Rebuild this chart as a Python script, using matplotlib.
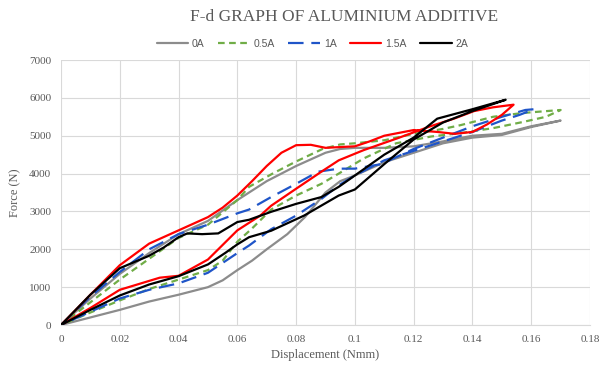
import numpy as np
import matplotlib
matplotlib.use("Agg")
import matplotlib.pyplot as plt
from matplotlib.ticker import MultipleLocator, FuncFormatter

# Each specimen is one closed loop: loading branch out to the end point,
# then the return branch back to the origin.
labels = ["0A", "0.5A", "1A", "1.5A", "2A"]

a0_load_x = [0, 0.01, 0.02, 0.03, 0.04, 0.05, 0.06, 0.07, 0.08, 0.09, 0.095, 0.10, 0.11, 0.12, 0.13, 0.14, 0.15, 0.16, 0.17]
a0_load_y = [0, 700, 1350, 1900, 2400, 2750, 3300, 3800, 4200, 4550, 4650, 4680, 4680, 4720, 4850, 5000, 5050, 5250, 5400]
a0_ret_x = [0, 0.01, 0.02, 0.03, 0.04, 0.05, 0.055, 0.06, 0.065, 0.07, 0.077, 0.083, 0.09, 0.095, 0.10, 0.11, 0.12, 0.13, 0.14, 0.15, 0.16, 0.17]
a0_ret_y = [0, 200, 400, 620, 800, 1000, 1180, 1450, 1700, 2000, 2400, 2850, 3500, 3800, 3950, 4300, 4550, 4800, 4950, 5020, 5230, 5400]

a05_load_x = [0, 0.01, 0.02, 0.03, 0.04, 0.05, 0.06, 0.064, 0.072, 0.08, 0.089, 0.095, 0.10, 0.11, 0.12, 0.13, 0.136, 0.147, 0.157, 0.17]
a05_load_y = [0, 600, 1200, 1750, 2300, 2650, 3300, 3650, 4000, 4320, 4650, 4770, 4800, 4880, 5050, 5180, 5280, 5500, 5600, 5680]
a05_ret_x = [0, 0.01, 0.02, 0.03, 0.04, 0.05, 0.055, 0.06, 0.065, 0.0715, 0.08, 0.0886, 0.0945, 0.103, 0.114, 0.126, 0.136, 0.147, 0.157, 0.165, 0.17]
a05_ret_y = [0, 330, 650, 950, 1200, 1450, 1700, 2200, 2550, 3050, 3420, 3730, 4000, 4400, 4800, 4980, 5070, 5200, 5360, 5500, 5680]

a1_load_x = [0, 0.01, 0.02, 0.03, 0.04, 0.05, 0.06, 0.064, 0.0715, 0.08, 0.0875, 0.0945, 0.10, 0.109, 0.12, 0.13, 0.14, 0.15, 0.158, 0.161]
a1_load_y = [0, 750, 1400, 2000, 2400, 2650, 2950, 3050, 3380, 3730, 4050, 4130, 4130, 4250, 4650, 4950, 5250, 5500, 5680, 5700]
a1_ret_x = [0, 0.01, 0.02, 0.03, 0.04, 0.05, 0.06, 0.064, 0.0715, 0.08, 0.0886, 0.0945, 0.10, 0.11, 0.12, 0.13, 0.14, 0.15, 0.156, 0.161]
a1_ret_y = [0, 350, 700, 930, 1100, 1380, 1900, 2100, 2530, 2890, 3330, 3690, 3950, 4350, 4600, 4850, 5100, 5400, 5550, 5700]

a15_load_x = [0, 0.01, 0.02, 0.03, 0.04, 0.05, 0.055, 0.06, 0.065, 0.07, 0.075, 0.08, 0.085, 0.09, 0.10, 0.105, 0.11, 0.12, 0.128, 0.134, 0.14, 0.145, 0.15, 0.154]
a15_load_y = [0, 800, 1580, 2150, 2500, 2850, 3100, 3420, 3800, 4200, 4550, 4750, 4760, 4680, 4720, 4850, 5000, 5150, 5100, 5050, 5100, 5300, 5550, 5820]
a15_ret_x = [0, 0.01, 0.02, 0.0336, 0.04, 0.05, 0.06, 0.0678, 0.0715, 0.08, 0.0886, 0.0945, 0.103, 0.1144, 0.1257, 0.1337, 0.1405, 0.147, 0.154]
a15_ret_y = [0, 450, 930, 1250, 1300, 1730, 2500, 2890, 3150, 3600, 4050, 4350, 4620, 4930, 5250, 5450, 5650, 5750, 5820]

a2_load_x = [0, 0.01, 0.02, 0.03, 0.035, 0.04, 0.043, 0.048, 0.0535, 0.06, 0.064, 0.0715, 0.08, 0.0886, 0.0945, 0.10, 0.11, 0.12, 0.128, 0.14, 0.1513]
a2_load_y = [0, 800, 1500, 1830, 2050, 2320, 2420, 2400, 2420, 2720, 2780, 2990, 3200, 3380, 3650, 3950, 4500, 4950, 5450, 5700, 5950]
a2_ret_x = [0, 0.01, 0.02, 0.03, 0.04, 0.05, 0.056, 0.06, 0.064, 0.0715, 0.0827, 0.0945, 0.10, 0.11, 0.12, 0.13, 0.14, 0.1513]
a2_ret_y = [0, 400, 780, 1070, 1290, 1600, 1910, 2130, 2320, 2490, 2890, 3420, 3580, 4250, 4900, 5350, 5650, 5950]

loops = [
    (a0_load_x, a0_load_y, a0_ret_x, a0_ret_y),
    (a05_load_x, a05_load_y, a05_ret_x, a05_ret_y),
    (a1_load_x, a1_load_y, a1_ret_x, a1_ret_y),
    (a15_load_x, a15_load_y, a15_ret_x, a15_ret_y),
    (a2_load_x, a2_load_y, a2_ret_x, a2_ret_y),
]

colors = ["#8c8c8c", "#70ad47", "#1f55c8", "#ff0000", "#000000"]
dashes = [None, (3, 2), (7, 3.5), None, None]

text_grey = "#595959"
grid_grey = "#d9d9d9"
serif = ["Liberation Serif", "DejaVu Serif"]

fig = plt.figure(figsize=(6.01, 3.67), dpi=100)
ax = fig.add_axes([0.1015, 0.1144, 0.8802, 0.7221])

for (lx, ly, rx, ry), lab, col, dsh in zip(loops, labels, colors, dashes):
    xs = list(lx) + list(rx)[::-1]
    ys = list(ly) + list(ry)[::-1]
    line, = ax.plot(xs, ys, color=col, lw=1.6, label=lab,
                    solid_joinstyle="round", solid_capstyle="round")
    if dsh is not None:
        line.set_dashes(dsh)

ax.set_xlim(0, 0.18)
ax.set_ylim(0, 7000)
ax.xaxis.set_major_locator(MultipleLocator(0.02))
ax.yaxis.set_major_locator(MultipleLocator(1000))
ax.xaxis.set_major_formatter(FuncFormatter(lambda v, p: "%g" % round(v, 2)))
ax.grid(True, color=grid_grey, lw=0.8)
ax.set_axisbelow(True)
for side in ["top", "right", "left"]:
    ax.spines[side].set_visible(False)
ax.spines["bottom"].set_color(grid_grey)
ax.tick_params(length=0, pad=7, labelsize=8, labelcolor=text_grey)
for t in ax.get_xticklabels() + ax.get_yticklabels():
    t.set_family(serif)

ax.set_xlabel("Displacement (Nmm)", fontsize=9, color=text_grey, family=serif, labelpad=4)
ax.set_ylabel("Force (N)", fontsize=9, color=text_grey, family=serif, labelpad=6)

fig.text(0.572, 0.953, "F-d GRAPH OF ALUMINIUM ADDITIVE", ha="center", va="center",
         fontsize=12.5, color=text_grey, family=serif)

leg = fig.legend(loc="center", bbox_to_anchor=(0.52, 0.88), ncol=5, frameon=False,
                 handlelength=3.0, handletextpad=0.4, columnspacing=1.3,
                 prop={"family": "Liberation Sans", "size": 7.5})
for t in leg.get_texts():
    t.set_color(text_grey)

fig.savefig("out.png", dpi=100)
